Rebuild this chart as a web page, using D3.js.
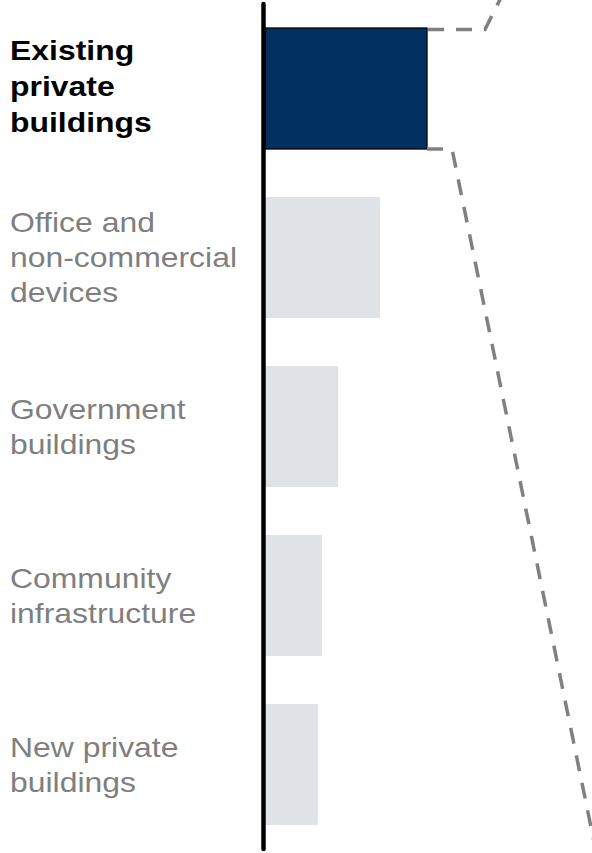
<!DOCTYPE html>
<html>
<head>
<meta charset="utf-8">
<script src="https://cdn.jsdelivr.net/npm/d3@7"></script>
<style>
  body { margin: 0; background: #fff; }
  svg { display: block; }
</style>
</head>
<body>
<div id="chart"></div>
<script>
var width = 592,
    height = 853;

// categories (label lines) and values
const categories = ["Existing private buildings", "Office and non-commercial devices", "Government buildings", "Community infrastructure", "New private buildings"];
const labelLines = [
    ["Existing", "private", "buildings"],
    ["Office and", "non-commercial", "devices"],
    ["Government", "buildings"],
    ["Community", "infrastructure"],
    ["New private", "buildings"]
];
const values = [31, 22, 14, 10.9, 10.1];
const highlighted = "Existing private buildings";

var data = categories.map((c, i) => ({ name: c, lines: labelLines[i], value: values[i] }));

var svg = d3.select("#chart")
    .append("svg")
    .attr("width", width)
    .attr("height", height);

var yScale = d3.scaleBand()
    .domain(categories)
    .range([4, 849])
    .paddingInner(0.284)
    .paddingOuter(0.142);

var xScale = d3.scaleLinear()
    .domain([0, 31])
    .range([265, 427]);

// bars
svg.selectAll(".bar")
    .data(data)
    .enter().append("rect")
    .attr("class", "bar")
    .attr("x", xScale(0))
    .attr("y", d => yScale(d.name))
    .attr("width", d => xScale(d.value) - xScale(0))
    .attr("height", yScale.bandwidth())
    .attr("fill", d => d.name === highlighted ? "#03315f" : "#dfe3e7")
    .attr("stroke", d => d.name === highlighted ? "#000" : "none")
    .attr("stroke-width", 1.3);

// zoom-out dashed lines from the highlighted bar
var hl = data.find(d => d.name === highlighted);
var bx = xScale(hl.value),
    by0 = yScale(hl.name) + 1.5,
    by1 = yScale(hl.name) + yScale.bandwidth();

svg.append("path")
    .attr("d", d3.line()([[bx + 1, by0], [bx + 58, by0], [bx + 79, by0 - 42]]))
    .attr("fill", "none")
    .attr("stroke", "#808080")
    .attr("stroke-width", 3.5)
    .attr("stroke-dasharray", "16,12");

svg.append("path")
    .attr("d", d3.line()([[bx, by1], [bx + 25, by1], [bx + 25 + 0.205 * (height + 20 - by1), height + 20]]))
    .attr("fill", "none")
    .attr("stroke", "#808080")
    .attr("stroke-width", 3.5)
    .attr("stroke-dasharray", "16,12");

// vertical axis line
svg.append("line")
    .attr("x1", 263.5).attr("x2", 263.5)
    .attr("y1", yScale.range()[0]).attr("y2", yScale.range()[1])
    .attr("stroke", "#000")
    .attr("stroke-width", 4.5)
    .attr("stroke-linecap", "round");

// category labels
var labels = svg.selectAll(".label")
    .data(data)
    .enter().append("text")
    .attr("class", "label")
    .attr("transform", "translate(10,0) scale(1.12,1)")
    .style("font-family", "'Liberation Sans', Arial, sans-serif")
    .style("font-size", "28.5px")
    .style("font-weight", d => d.name === highlighted ? "bold" : "normal")
    .attr("fill", d => d.name === highlighted ? "#000" : "#7f7f7f");

labels.each(function(d) {
    var isHl = d.name === highlighted;
    var lh = isHl ? 36 : 35;
    var cy = yScale(d.name) + yScale.bandwidth() / 2;
    var n = d.lines.length;
    d3.select(this).selectAll("tspan")
        .data(d.lines)
        .enter().append("tspan")
        .attr("x", 0)
        .attr("y", (t, i) => cy + (i - (n - 1) / 2) * lh + (isHl ? 8 : 10))
        .text(t => t);
});
</script>
</body>
</html>
